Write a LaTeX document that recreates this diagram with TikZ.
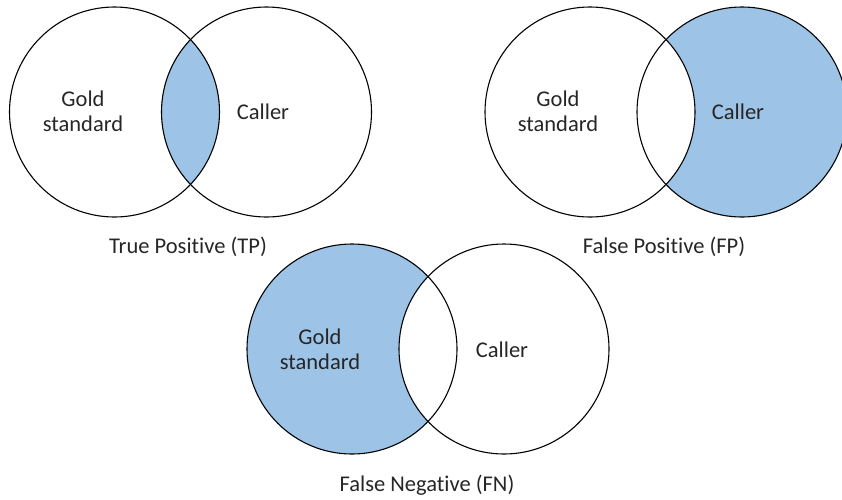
\documentclass[tikz,border=0pt]{standalone}
\usepackage{fontspec}
\setmainfont{Carlito}[Ligatures=NoCommon]
\definecolor{venblue}{RGB}{157,195,230}
\begin{document}
\begin{tikzpicture}[x=1pt,y=-1pt,
  ring/.style={draw=black,line width=1.1pt},
  lbl/.style={font=\fontsize{22.5}{25}\selectfont,align=center,text=black!85,inner sep=0pt},
  captxt/.style={font=\fontsize{22.5}{25}\selectfont,text=black!85,inner sep=0pt}]
\useasboundingbox (0,0) rectangle (842,499);
\def\R{105}
% --- True Positive
\begin{scope}
  \clip (114.5,112) circle (\R);
  \fill[venblue] (266.5,112) circle (\R);
\end{scope}
\draw[ring] (114.5,112) circle (\R);
\draw[ring] (266.5,112) circle (\R);
\node[lbl] (g1) at (83,111.5) {Gold\\standard};
\node[lbl] (c1) at (263,112) {Caller};
\node[captxt] (t1) at (188,247) {True Positive (TP)};
% --- False Positive
\fill[venblue] (742,112) circle (\R);
\begin{scope}
  \clip (590,112) circle (\R);
  \fill[white] (742,112) circle (\R);
\end{scope}
\draw[ring] (590,112) circle (\R);
\draw[ring] (742,112) circle (\R);
\node[lbl] (g2) at (558,111.5) {Gold\\standard};
\node[lbl] (c2) at (738,112) {Caller};
\node[captxt] (t2) at (664,247) {False Positive (FP)};
% --- False Negative
\fill[venblue] (352,349) circle (\R);
\begin{scope}
  \clip (504,349) circle (\R);
  \fill[white] (352,349) circle (\R);
\end{scope}
\draw[ring] (352,349) circle (\R);
\draw[ring] (504,349) circle (\R);
\node[lbl] (g3) at (320,349.5) {Gold\\standard};
\node[lbl] (c3) at (502,350) {Caller};
\node[captxt] (t3) at (427,485) {False Negative (FN)};
\end{tikzpicture}
\end{document}
